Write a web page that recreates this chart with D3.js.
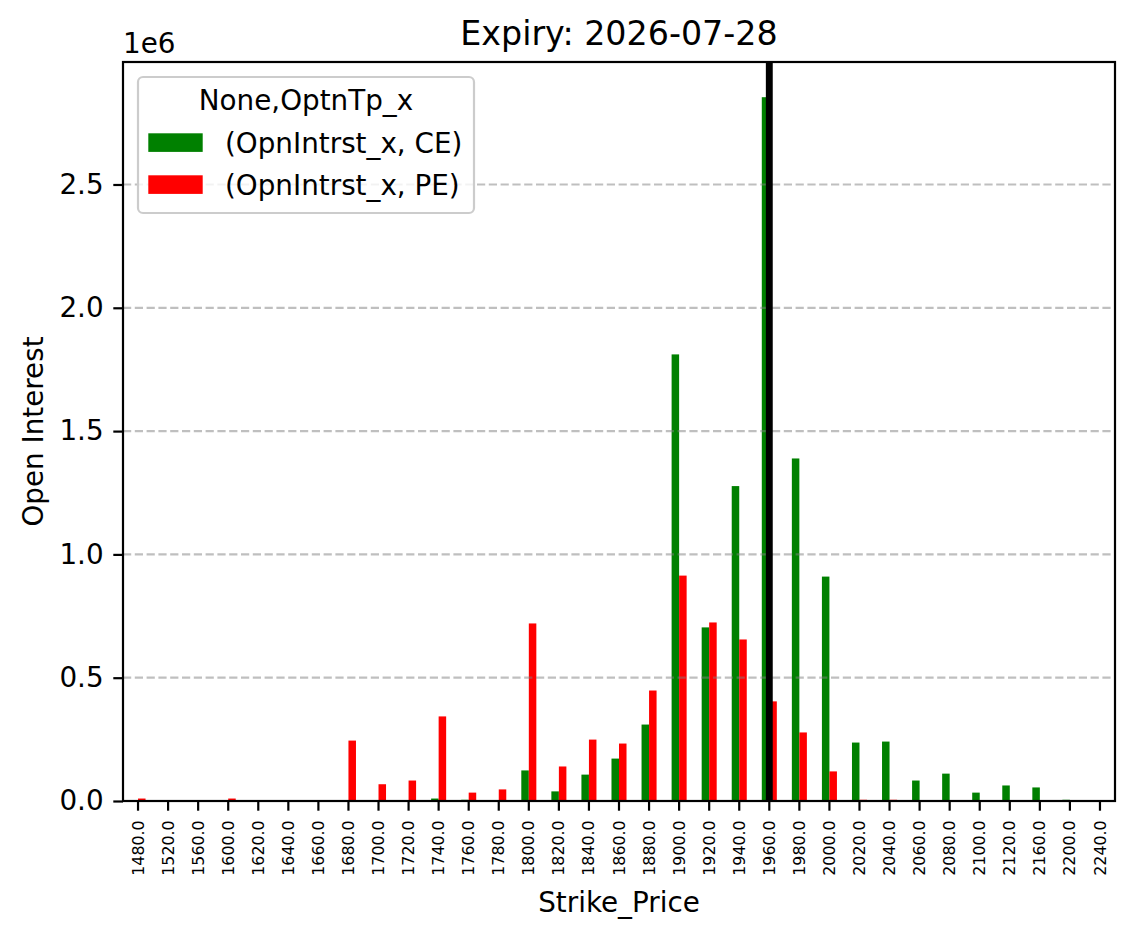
<!DOCTYPE html>
<html>
<head>
<meta charset="utf-8">
<title>Expiry: 2026-07-28</title>
<script src="https://cdn.jsdelivr.net/npm/d3@7"></script>
<style>
  body { margin: 0; background: #fff; }
  svg { display: block; font-family: "DejaVu Sans", sans-serif; }
</style>
</head>
<body>
<script>
// strike prices (x categories)
var strikes = [1480, 1520, 1560, 1600, 1620, 1640, 1660, 1680, 1700, 1720, 1740,
  1760, 1780, 1800, 1820, 1840, 1860, 1880, 1900, 1920, 1940, 1960, 1980, 2000,
  2020, 2040, 2060, 2080, 2100, 2120, 2160, 2200, 2240];

// open interest, calls
var ceOI = [0, 0, 0, 0, 0, 0, 0, 0, 0, 0, 10000, 5000, 0, 124000, 39000, 107000,
  172000, 310000, 1811000, 704000, 1277000, 2854000, 1389000, 910000, 237000,
  241000, 83000, 111000, 34000, 63000, 55000, 5000, 0];

// open interest, puts
var peOI = [10000, 0, 0, 10000, 0, 0, 0, 245000, 68000, 83000, 343000, 34000,
  47000, 720000, 140000, 249000, 233000, 448000, 914000, 724000, 655000, 404000,
  278000, 120000, 5000, 5000, 0, 0, 0, 0, 0, 0, 0];

var seriesNames = ["(OpnIntrst_x, CE)", "(OpnIntrst_x, PE)"];
var seriesColors = ["green", "red"];
var yTicks = [0, 0.5e6, 1e6, 1.5e6, 2e6, 2.5e6];
var spot = 1960;

var W = 1134, H = 939;
var m = {left: 123, right: 1115, top: 62, bottom: 801};
var fs = 27.8, tk = 9.7, lw = 2.2;

var svg = d3.select("body").append("svg")
    .attr("width", W)
    .attr("height", H);

var x = d3.scaleBand()
    .domain(strikes)
    .range([m.left, m.right])
    .padding(0);
var step = x.step();

var ymax = d3.max(ceOI.concat(peOI)) * 1.05;
var y = d3.scaleLinear()
    .domain([0, ymax])
    .range([m.bottom, m.top]);

// bars
var bars = svg.append("g");
[ceOI, peOI].forEach(function (vals, k) {
  bars.selectAll(null)
      .data(strikes)
    .enter().append("rect")
      .attr("x", function (d) { return x(d) + step / 2 + (k - 1) * step * 0.25; })
      .attr("width", step * 0.25)
      .attr("y", function (d, i) { return y(vals[i]); })
      .attr("height", function (d, i) { return y(0) - y(vals[i]); })
      .attr("fill", seriesColors[k]);
});

// grid (sits above the bars, like matplotlib)
svg.append("g").selectAll("line")
    .data(yTicks.slice(1))
  .enter().append("line")
    .attr("x1", m.left).attr("x2", m.right)
    .attr("y1", function (d) { return y(d); })
    .attr("y2", function (d) { return y(d); })
    .attr("stroke", "#808080")
    .attr("stroke-opacity", 0.5)
    .attr("stroke-width", lw)
    .attr("stroke-dasharray", "8.2,3.6");

// spot line
svg.append("line")
    .attr("x1", x(spot) + step / 2).attr("x2", x(spot) + step / 2)
    .attr("y1", m.top).attr("y2", m.bottom)
    .attr("stroke", "#000")
    .attr("stroke-width", 6.9);

// frame
svg.append("rect")
    .attr("x", m.left).attr("y", m.top)
    .attr("width", m.right - m.left)
    .attr("height", m.bottom - m.top)
    .attr("fill", "none")
    .attr("stroke", "#000")
    .attr("stroke-width", lw);

// y axis
var yAxis = svg.append("g")
    .attr("transform", "translate(" + m.left + ",0)")
    .call(d3.axisLeft(y).tickValues(yTicks)
      .tickFormat(function (d) { return (d / 1e6).toFixed(1); })
      .tickSize(tk).tickPadding(tk));
yAxis.select(".domain").remove();
yAxis.selectAll(".tick line").attr("stroke-width", lw);
yAxis.selectAll("text").attr("font-size", fs).attr("fill", "#000")
    .attr("font-family", "DejaVu Sans");

// x axis
var xAxis = svg.append("g")
    .attr("transform", "translate(0," + m.bottom + ")")
    .call(d3.axisBottom(x).tickFormat(function (d) { return d.toFixed(1); })
      .tickSize(tk).tickPadding(0));
xAxis.select(".domain").remove();
xAxis.selectAll(".tick line").attr("stroke-width", lw);
xAxis.selectAll("text")
    .attr("font-size", 15.8)
    .attr("font-family", "DejaVu Sans")
    .attr("fill", "#000")
    .attr("transform", "translate(0," + (tk * 2) + ") rotate(-90)")
    .attr("x", 0).attr("y", 0)
    .attr("dy", "0.35em")
    .attr("text-anchor", "end");

// offset text
svg.append("text")
    .attr("x", m.left).attr("y", 53)
    .attr("font-size", fs)
    .text("1e6");

// title
svg.append("text")
    .attr("x", (m.left + m.right) / 2).attr("y", 45)
    .attr("text-anchor", "middle")
    .attr("font-size", 33.3)
    .text("Expiry: 2026-07-28");

// axis labels
svg.append("text")
    .attr("x", (m.left + m.right) / 2).attr("y", 912)
    .attr("text-anchor", "middle")
    .attr("font-size", fs)
    .text("Strike_Price");

svg.append("text")
    .attr("transform", "translate(43," + ((m.top + m.bottom) / 2) + ") rotate(-90)")
    .attr("text-anchor", "middle")
    .attr("font-size", fs)
    .text("Open Interest");

// legend
var lg = svg.append("g");
lg.append("rect")
    .attr("x", 138).attr("y", 77)
    .attr("width", 336).attr("height", 136)
    .attr("rx", 5)
    .attr("fill", "#fff").attr("fill-opacity", 0.8)
    .attr("stroke", "#cccccc").attr("stroke-width", lw);
lg.append("text")
    .attr("x", 306).attr("y", 110)
    .attr("text-anchor", "middle")
    .attr("font-size", fs)
    .text("None,OptnTp_x");
seriesNames.forEach(function (name, k) {
  lg.append("rect")
      .attr("x", 148.3).attr("y", 133.3 + k * 42)
      .attr("width", 54.4).attr("height", 18.6)
      .attr("fill", seriesColors[k]);
  lg.append("text")
      .attr("x", 225).attr("y", 152.5 + k * 42)
      .attr("font-size", fs)
      .text(name);
});
</script>
</body>
</html>
